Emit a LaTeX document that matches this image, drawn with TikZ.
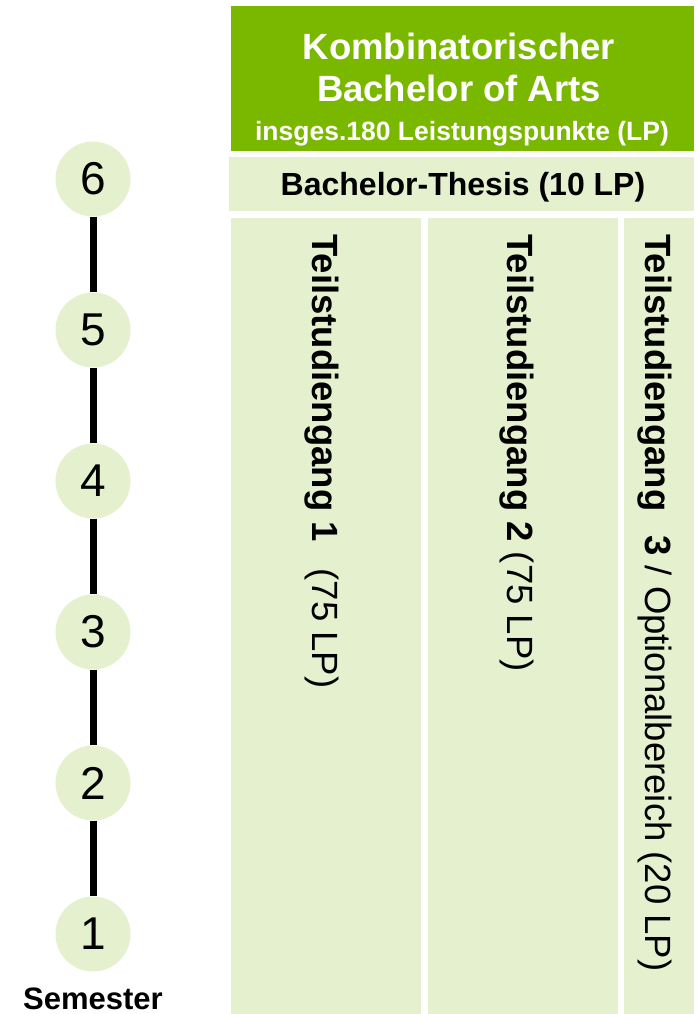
\documentclass[tikz,border=0pt]{standalone}
\usepackage{fontspec}
\setmainfont{Liberation Sans}
\definecolor{kbagreen}{RGB}{122,184,0}
\definecolor{kbalight}{RGB}{228,240,206}
\tikzset{
    panel/.style={fill=kbalight, draw=none, inner sep=0pt},
    semnode/.style={circle, fill=kbalight, minimum size=75pt, inner sep=0pt,
        font=\fontsize{46}{46}\selectfont},
    tsglabel/.style={rotate=-90, anchor=base west, inner sep=0pt,
        font=\fontsize{36.5}{36.5}\selectfont},
}
\begin{document}
\begin{tikzpicture}[x=1pt,y=-1pt]
        \useasboundingbox (0,0) rectangle (696,1014);

        % Header
        \node[fill=kbagreen, inner sep=0pt, minimum width=463pt, minimum height=145pt] (head) at (462.5,78.5) {};
        \node[anchor=base, white, font=\fontsize{36.5}{36.5}\selectfont\bfseries] (title1) at (459,60) {Kombinatorischer};
        \node[anchor=base, white, font=\fontsize{36.5}{36.5}\selectfont\bfseries] (title2) at (459,102) {Bachelor of Arts};
        \node[anchor=base, white, font=\fontsize{26.5}{26.5}\selectfont\bfseries] (title3) at (462,140) {insges.180 Leistungspunkte (LP)};

        % Thesis band
        \node[panel, minimum width=465pt, minimum height=54pt] (thesis) at (461.5,184) {};
        \node[anchor=base, font=\fontsize{32}{32}\selectfont\bfseries] (thesistext) at (463,195) {Bachelor-Thesis (10 LP)};

        % Columns
        \node[panel, minimum width=190pt, minimum height=796pt] (col1) at (326,616) {};
        \node[panel, minimum width=190pt, minimum height=796pt] (col2) at (523,616) {};
        \node[panel, minimum width=70pt, minimum height=796pt] (col3) at (659,616) {};

        \node[tsglabel] (tsg1) at (312,234) {\bfseries Teilstudiengang 1\hspace{27pt}{\mdseries (75 LP)}};
        \node[tsglabel] (tsg2) at (507,234) {\bfseries Teilstudiengang 2 {\mdseries (75 LP)}};
        \node[tsglabel] (tsg3) at (645,234) {\bfseries Teilstudiengang\hspace{24pt}3 {\mdseries / Optionalbereich (20 LP)}};

        % Semester timeline
        \foreach \n/\y in {6/179, 5/330, 4/481, 3/632, 2/783, 1/934} {
            \node[semnode] (s\n) at (93,\y) {\n};
        }
        \foreach \a/\b in {6/5, 5/4, 4/3, 3/2, 2/1} {
            \draw[line width=7pt] (s\a) -- (s\b);
        }
        \node[anchor=base, inner sep=0pt, font=\fontsize{31}{31}\selectfont\bfseries] (sem) at (93,1009) {Semester};
    \end{tikzpicture}
\end{document}
